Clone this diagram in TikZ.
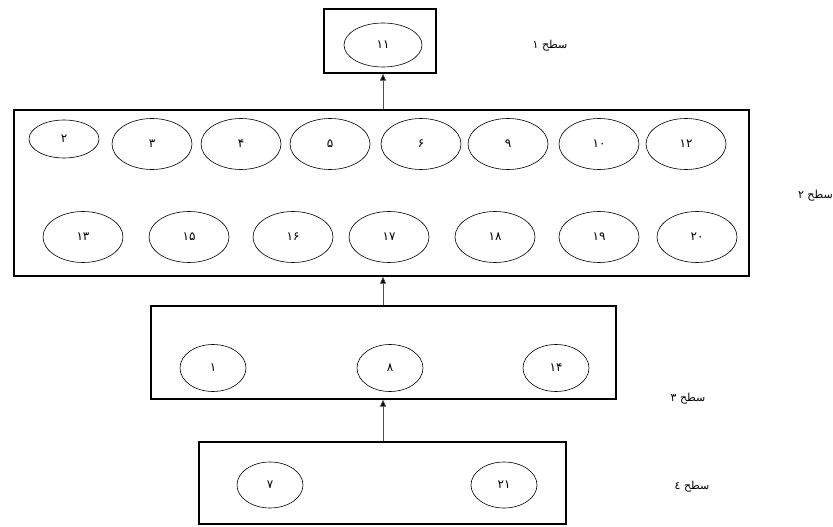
\documentclass[tikz,border=0pt]{standalone}
\usepackage{fontspec}
\TeXXeTstate=1
\newfontfamily\arabicfont[Script=Arabic]{DejaVu Sans}
\usetikzlibrary{shapes.geometric,arrows.meta}

\begin{document}
\begin{tikzpicture}[x=1pt,y=-1pt,
  levelbox/.style={draw,line width=1.4pt,inner sep=0pt},
  item/.style={draw,ellipse,line width=0.6pt,inner sep=0pt,
    minimum width=80pt,minimum height=51pt,
    font=\arabicfont\fontsize{12}{12}\selectfont},
  smallitem/.style={item,minimum width=66pt,minimum height=47pt},
  levellabel/.style={font=\arabicfont\fontsize{11}{12}\selectfont,inner sep=0pt},
  uplink/.style={draw=black!70,line width=0.7pt,
    -{Triangle[length=7pt,width=6pt,fill=black]}}]

\useasboundingbox (0,0) rectangle (833,527);

% level boxes, all centred near one vertical axis
\node[levelbox,minimum width=112pt,minimum height=64pt] (L1) at (380,41) {};
\node[levelbox,minimum width=735pt,minimum height=166pt] (L2) at (381.5,193) {};
\node[levelbox,minimum width=465pt,minimum height=93pt] (L3) at (383.5,352.5) {};
\node[levelbox,minimum width=367pt,minimum height=82pt] (L4) at (382.5,483) {};

% level 1
\node[item,minimum width=78pt,minimum height=44pt] (n11) at (383,45) {۱۱};

% level 2, upper row
\node[item,minimum width=70pt,minimum height=38pt] (n2) at (64,139) {۲};
\node[item] (n3)  at (152,144) {۳};
\node[item] (n4)  at (241,144) {۴};
\node[item] (n5)  at (330,144) {۵};
\node[item] (n6)  at (421,144) {۶};
\node[item] (n9)  at (508,144) {۹};
\node[item] (n10) at (599,144) {۱۰};
\node[item] (n12) at (686,144) {۱۲};

% level 2, lower row
\node[item] (n13) at (83,237)  {۱۳};
\node[item] (n15) at (189,237) {۱۵};
\node[item] (n16) at (293,237) {۱۶};
\node[item] (n17) at (389,237) {۱۷};
\node[item] (n18) at (495,237) {۱۸};
\node[item] (n19) at (599,237) {۱۹};
\node[item] (n20) at (697,237) {۲۰};

% level 3
\node[smallitem] (n1)  at (213,368) {۱};
\node[smallitem] (n8)  at (390,368) {۸};
\node[smallitem] (n14) at (556,368) {۱۴};

% level 4
\node[smallitem,minimum height=46pt] (n7)  at (270,485) {۷};
\node[smallitem,minimum height=46pt] (n21) at (504,485) {۲۱};

% level labels
\node[levellabel] (t1) at (550,46)  {\beginR سطح ۱\endR};
\node[levellabel,anchor=east] (t2) at (833,196) {\beginR سطح ۲\endR};
\node[levellabel] (t3) at (688,399) {\beginR سطح ۳\endR};
\node[levellabel] (t4) at (692,487) {\beginR سطح ٤\endR};

% links between levels
\coordinate (spine) at (383,0);
\draw[uplink] (spine |- L4.north) -- (spine |- L3.south);
\draw[uplink] (spine |- L3.north) -- (spine |- L2.south);
\draw[uplink] (spine |- L2.north) -- (spine |- L1.south);
\end{tikzpicture}
\end{document}
